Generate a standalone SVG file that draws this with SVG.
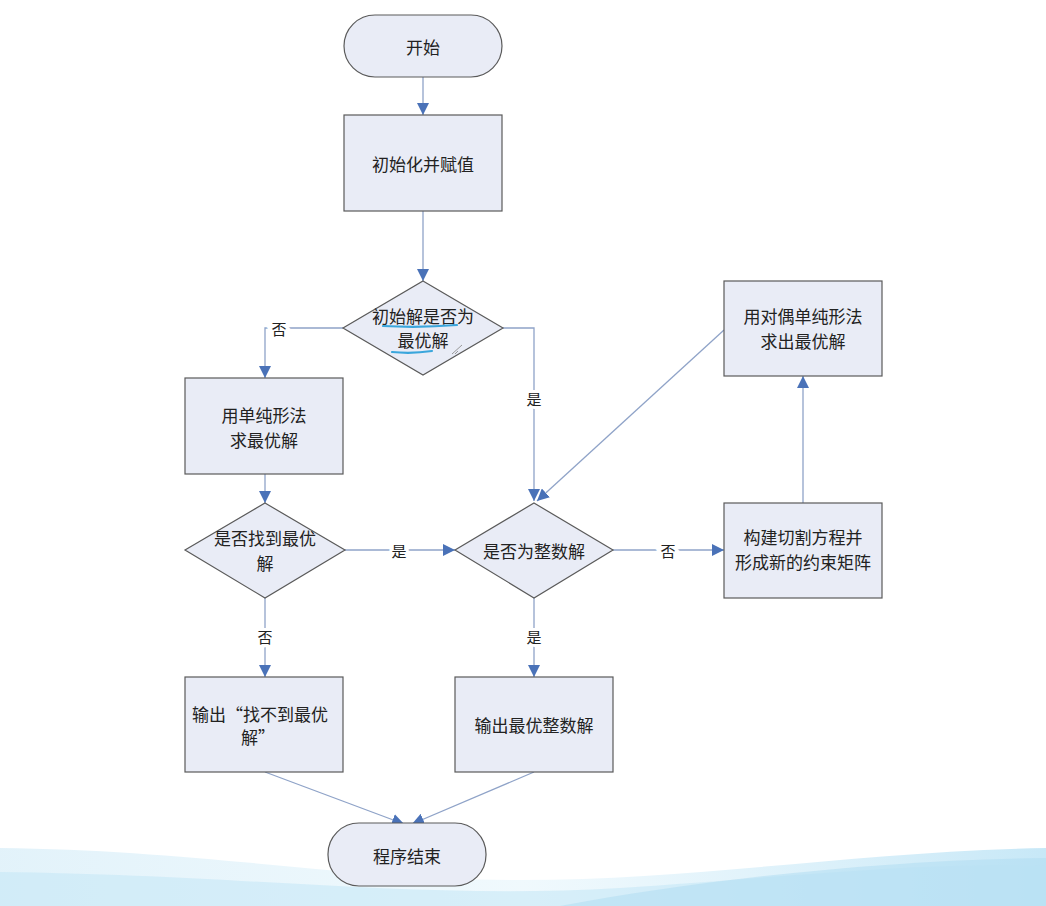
<svg xmlns="http://www.w3.org/2000/svg" width="1046" height="906" viewBox="0 0 1046 906">
<defs>
<style>
.n{fill:#e9ecf6;stroke:#5a5a5a;stroke-width:1.2}
.t{font-family:"Noto Sans CJK SC","Noto Sans CJK JP",sans-serif;font-size:17px;fill:#222;text-anchor:middle;dominant-baseline:central}
.c{fill:none;stroke:#8fa3c8;stroke-width:1.3}
.l{font-family:"Noto Sans CJK SC",sans-serif;font-size:15px;fill:#222;text-anchor:middle;dominant-baseline:central;stroke:#fff;stroke-width:6;paint-order:stroke}
.hl{fill:none;stroke:#3aa6dc;stroke-width:2.2;stroke-linecap:round}
</style>
<marker id="a" viewBox="0 0 12 12" refX="12" refY="6" markerWidth="12" markerHeight="12" markerUnits="userSpaceOnUse" orient="auto">
<path d="M0,0 L12,6 L0,12 Z" fill="#4a72b8"/>
</marker>
<linearGradient id="w1" x1="0" y1="0" x2="1" y2="0">
<stop offset="0" stop-color="#cfeaf7" stop-opacity="0.6"/>
<stop offset="0.5" stop-color="#d9f0fa" stop-opacity="0.4"/>
<stop offset="1" stop-color="#b9e2f5" stop-opacity="0.8"/>
</linearGradient>
</defs>
<rect width="1046" height="906" fill="#fff"/>
<g id="background">
<path d="M0,848 C200,850 350,880 520,880 C700,880 850,852 1046,848 L1046,906 L0,906 Z" fill="url(#w1)"/>
<path d="M0,872 C250,875 420,900 620,888 C800,876 920,862 1046,866 L1046,906 L0,906 Z" fill="#c6e7f6" opacity="0.6"/>
<path d="M560,906 C700,880 880,860 1046,858 L1046,906 Z" fill="#aedcf2" opacity="0.5"/>
</g>
<g id="connectors">
<path class="c" d="M423,77 V115" marker-end="url(#a)"/>
<path class="c" d="M423,211 V281" marker-end="url(#a)"/>
<path class="c" d="M343,328 H265 V378" marker-end="url(#a)"/>
<path class="c" d="M503,328 H534 V501" marker-end="url(#a)"/>
<path class="c" d="M265,474 V503" marker-end="url(#a)"/>
<path class="c" d="M345,550 H455" marker-end="url(#a)"/>
<path class="c" d="M613,550 H724" marker-end="url(#a)"/>
<path class="c" d="M803,503 V376" marker-end="url(#a)"/>
<path class="c" d="M724,330 L537,501" marker-end="url(#a)"/>
<path class="c" d="M265,598 V677" marker-end="url(#a)"/>
<path class="c" d="M534,598 V677" marker-end="url(#a)"/>
<path class="c" d="M265,772 L404,824" marker-end="url(#a)"/>
<path class="c" d="M534,772 L412,824" marker-end="url(#a)"/>
<text class="l" x="279" y="328">否</text>
<text class="l" x="534" y="398">是</text>
<text class="l" x="399" y="550">是</text>
<text class="l" x="668" y="550">否</text>
<text class="l" x="265" y="636">否</text>
<text class="l" x="534" y="636">是</text>
</g>
<g id="start">
<rect class="n" x="344" y="15" width="158" height="62" rx="31" ry="31"/>
<text class="t" x="423" y="46">开始</text>
</g>
<g id="init">
<rect class="n" x="344" y="115" width="158" height="96"/>
<text class="t" x="423" y="163">初始化并赋值</text>
</g>
<g id="d1">
<polygon class="n" points="423,281 503,328 423,375 343,328"/>
<text class="t" x="423" y="315">初始解是否为</text>
<text class="t" x="423" y="339">最优解</text>
<path class="hl" d="M383,326 Q420,328 457,325"/>
<path class="hl" d="M392,352 Q412,354 432,351"/>
<path d="M452,354 L462,345 M455,354 L458,351" stroke="#999" stroke-width="1" fill="none"/>
</g>
<g id="simplex">
<rect class="n" x="185" y="378" width="158" height="96"/>
<text class="t" x="264" y="414">用单纯形法</text>
<text class="t" x="264" y="439">求最优解</text>
</g>
<g id="d2">
<polygon class="n" points="265,503 345,550 265,598 185,550"/>
<text class="t" x="265" y="537">是否找到最优</text>
<text class="t" x="265" y="562">解</text>
</g>
<g id="d3">
<polygon class="n" points="534,503 613,550 534,598 455,550"/>
<text class="t" x="534" y="550">是否为整数解</text>
</g>
<g id="cut">
<rect class="n" x="724" y="503" width="158" height="95"/>
<text class="t" x="803" y="536">构建切割方程并</text>
<text class="t" x="803" y="561">形成新的约束矩阵</text>
</g>
<g id="dual">
<rect class="n" x="724" y="281" width="158" height="95"/>
<text class="t" x="803" y="315">用对偶单纯形法</text>
<text class="t" x="803" y="340">求出最优解</text>
</g>
<g id="nosol">
<rect class="n" x="185" y="677" width="158" height="95"/>
<text class="t" x="260" y="713">输出“找不到最优</text>
<text class="t" x="258" y="736">解”</text>
</g>
<g id="out">
<rect class="n" x="455" y="677" width="158" height="95"/>
<text class="t" x="534" y="724">输出最优整数解</text>
</g>
<g id="end">
<rect class="n" x="328" y="823" width="158" height="63" rx="31" ry="31"/>
<text class="t" x="407" y="855">程序结束</text>
</g>
</svg>
